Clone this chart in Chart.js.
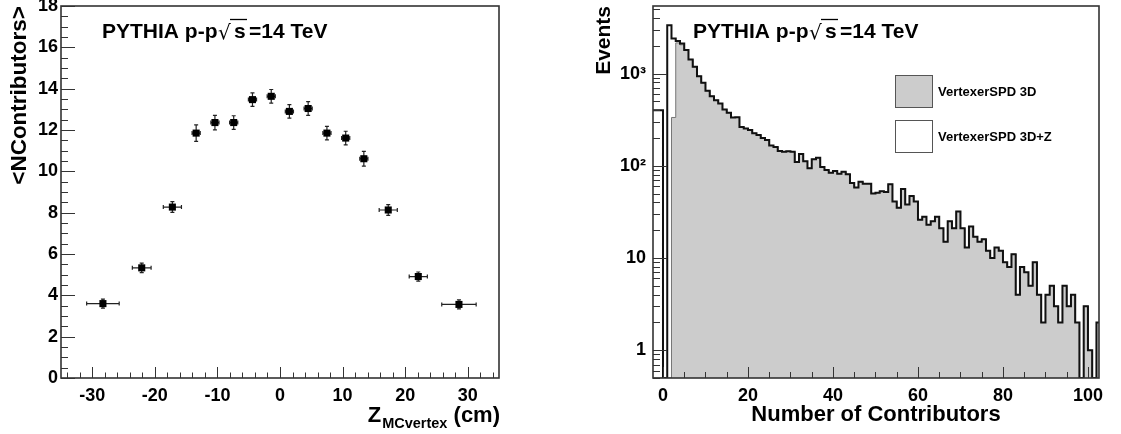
<!DOCTYPE html>
<html>
<head>
<meta charset="utf-8">
<script src="https://cdn.jsdelivr.net/npm/chart.js@4.4.1/dist/chart.umd.min.js"></script>
<style>
  body { margin: 0; background: #fff; width: 1121px; height: 434px; overflow: hidden; position: relative; }
  .pane { position: absolute; top: 0; height: 434px; }
  #paneL { left: 0; width: 560px; }
  #paneR { left: 560px; width: 561px; }
</style>
</head>
<body>
<div class="pane" id="paneL"><canvas id="left" width="560" height="434"></canvas></div>
<div class="pane" id="paneR"><canvas id="right" width="561" height="434"></canvas></div>
<script>
// left pad: <NContributors> vs Z of the MC vertex
var zPos        = [-28.3, -22.1, -17.2, -13.4, -10.4, -7.4, -4.4, -1.4, 1.5, 4.5, 7.5, 10.5, 13.4, 17.3, 22.1, 28.6];
var meanContrib = [3.60, 5.33, 8.27, 11.85, 12.36, 12.36, 13.47, 13.63, 12.90, 13.04, 11.85, 11.61, 10.61, 8.13, 4.91, 3.56];
var zErr        = [2.6, 1.5, 1.45, 0.65, 0.65, 0.65, 0.65, 0.65, 0.65, 0.65, 0.65, 0.65, 0.65, 1.45, 1.45, 2.75];
var contribErr  = [0.22, 0.23, 0.26, 0.4, 0.35, 0.33, 0.33, 0.33, 0.33, 0.33, 0.33, 0.33, 0.36, 0.26, 0.22, 0.22];

// right pad: number of contributors per event, bins [n, n+1)
var nContrib = [-3, -2, -1, 0, 1, 2, 3, 4, 5, 6,
  7, 8, 9, 10, 11, 12, 13, 14, 15, 16,
  17, 18, 19, 20, 21, 22, 23, 24, 25, 26,
  27, 28, 29, 30, 31, 32, 33, 34, 35, 36,
  37, 38, 39, 40, 41, 42, 43, 44, 45, 46,
  47, 48, 49, 50, 51, 52, 53, 54, 55, 56,
  57, 58, 59, 60, 61, 62, 63, 64, 65, 66,
  67, 68, 69, 70, 71, 72, 73, 74, 75, 76,
  77, 78, 79, 80, 81, 82, 83, 84, 85, 86,
  87, 88, 89, 90, 91, 92, 93, 94, 95, 96,
  97, 98, 99, 100, 101, 102];
var events3D = [0, 0, 0, 0, 0, 334, 2150, 2050, 1780, 1422,
  1183, 937, 793, 650, 569, 514, 473, 408, 375, 334,
  335, 264, 254, 245, 225, 215, 200, 190, 166, 160,
  145, 142, 144, 142, 110, 134, 112, 94, 118, 122,
  97, 90, 84, 88, 82, 86, 81, 65, 58, 67,
  64, 64, 50, 51, 53, 52, 63, 41, 35, 56,
  38, 47, 41, 26, 28, 23, 25, 28, 21, 15,
  25, 21, 32, 21, 13, 22, 17, 15, 16, 12,
  10, 13, 12, 9, 8, 11, 4, 8, 7, 5,
  9, 4, 2, 4, 5, 3, 2, 5, 3, 4,
  2, 0, 3, 1, 0, 2];
var events3DZ = [400, 400, 400, 0, 3330, 2400, 2250, 2120, 1795, 1422,
  1183, 937, 793, 650, 569, 514, 473, 408, 375, 334,
  335, 264, 254, 245, 225, 215, 200, 190, 166, 160,
  145, 142, 144, 142, 110, 134, 112, 94, 118, 122,
  97, 90, 84, 88, 82, 86, 81, 65, 58, 67,
  64, 64, 50, 51, 53, 52, 63, 41, 35, 56,
  38, 47, 41, 26, 28, 23, 25, 28, 21, 15,
  25, 21, 32, 21, 13, 22, 17, 15, 16, 12,
  10, 13, 12, 9, 8, 11, 4, 8, 7, 5,
  9, 4, 2, 4, 5, 3, 2, 5, 3, 4,
  2, 0, 3, 1, 0, 2];

var leftYTicks = [0, 2, 4, 6, 8, 10, 12, 14, 16, 18];
var leftXTicks = [-30, -20, -10, 0, 10, 20, 30];
var rightXTicks = [0, 20, 40, 60, 80, 100];
var rightYTicks = [1, 10, 100, 1000];
var rightYLabels = ['1', '10', '10\u00B2', '10\u00B3'];
var seriesNames = ['VertexerSPD 3D', 'VertexerSPD 3D+Z'];

var Y_MIN = 0.5, Y_MAX = 5400;

Chart.defaults.font.family = "'Liberation Sans', Arial, sans-serif";
Chart.defaults.font.weight = 'bold';
Chart.defaults.color = '#000';

var FRAME = '#333';
var FILL_GREY = 'rgb(204,204,204)';
var NO_GRID = { display: false, drawTicks: false };

function stepRange(a, b, s) {
  var out = [];
  for (var v = a; v <= b + 1e-9; v += s) out.push(Math.round(v * 100) / 100);
  return out;
}

// log minor ticks 2..9 in each decade
function logMinor(lo, hi) {
  var out = [];
  for (var d = 0.1; d <= 1000; d *= 10) {
    for (var k = 2; k <= 9; k++) {
      var v = +(k * d).toPrecision(3);
      if (v >= lo && v <= hi) out.push(v);
    }
  }
  return out;
}

// empty bins sit on the bottom of the log axis, like ROOT does
function histOutline(values) {
  var pts = [];
  for (var i = 0; i < nContrib.length; i++) {
    var v = values[i] > 0 ? values[i] : Y_MIN;
    pts.push({ x: nContrib[i], y: v });
    pts.push({ x: nContrib[i] + 1, y: v });
  }
  return pts;
}

function fixedTicks(values) {
  return function (scale) {
    scale.ticks = values.map(function (v) { return { value: v }; });
  };
}

// keep the frame where ROOT puts it, labels may overflow the margins
function fitY(w) {
  return function (s) { s.width = w; s.paddingTop = 0; s.paddingBottom = 0; };
}
function fitX(h) {
  return function (s) { s.height = h; s.paddingLeft = 0; s.paddingRight = 0; };
}

// ROOT style frame with inward ticks
var rootFrame = {
  id: 'rootFrame',
  afterDatasetsDraw: function (chart, args, o) {
    var ctx = chart.ctx, a = chart.chartArea;
    var xs = chart.scales.x, ys = chart.scales.y;
    ctx.save();
    ctx.strokeStyle = FRAME;
    ctx.lineWidth = 1;
    ctx.beginPath();
    function xt(list, len) {
      list.forEach(function (v) {
        var p = Math.round(xs.getPixelForValue(v)) + 0.5;
        ctx.moveTo(p, a.bottom); ctx.lineTo(p, a.bottom - len);
      });
    }
    function yt(list, len) {
      list.forEach(function (v) {
        var p = Math.round(ys.getPixelForValue(v)) + 0.5;
        ctx.moveTo(a.left, p); ctx.lineTo(a.left + len, p);
      });
    }
    xt(o.xMajor, o.xMajorLen); xt(o.xMinor, o.xMinorLen);
    yt(o.yMajor, o.yMajorLen); yt(o.yMinor, o.yMinorLen);
    ctx.stroke();
    ctx.lineWidth = 1.6;
    ctx.strokeRect(a.left, a.top, a.right - a.left, a.bottom - a.top);
    ctx.restore();
  }
};

// PYTHIA label with sqrt(s)
function drawPythia(ctx, x0, base) {
  ctx.save();
  ctx.fillStyle = '#000';
  ctx.textBaseline = 'alphabetic';
  ctx.font = "bold 21px 'Liberation Sans', Arial, sans-serif";
  ctx.fillText('PYTHIA p-p', x0, base);
  ctx.fillText('s', x0 + 132, base);
  ctx.fillText('=14 TeV', x0 + 147, base);
  ctx.font = "20px 'DejaVu Sans', sans-serif";
  ctx.fillText('\u221A', x0 + 116, base + 1);
  ctx.strokeStyle = '#000';
  ctx.lineWidth = 1.3;
  ctx.beginPath();
  ctx.moveTo(x0 + 128, base - 18.5);
  ctx.lineTo(x0 + 145, base - 18.5);
  ctx.stroke();
  ctx.restore();
}

var errorBars = {
  id: 'errorBars',
  beforeDatasetsDraw: function (chart) {
    var xs = chart.scales.x, ys = chart.scales.y, ctx = chart.ctx;
    ctx.save();
    ctx.strokeStyle = '#222';
    ctx.lineWidth = 1.2;
    ctx.beginPath();
    for (var i = 0; i < zPos.length; i++) {
      var px = xs.getPixelForValue(zPos[i]), py = ys.getPixelForValue(meanContrib[i]);
      var x0 = xs.getPixelForValue(zPos[i] - zErr[i]), x1 = xs.getPixelForValue(zPos[i] + zErr[i]);
      var y0 = ys.getPixelForValue(meanContrib[i] - contribErr[i]), y1 = ys.getPixelForValue(meanContrib[i] + contribErr[i]);
      ctx.moveTo(x0, py); ctx.lineTo(x1, py);
      ctx.moveTo(x0, py - 2); ctx.lineTo(x0, py + 2);
      ctx.moveTo(x1, py - 2); ctx.lineTo(x1, py + 2);
      ctx.moveTo(px, y0); ctx.lineTo(px, y1);
      ctx.moveTo(px - 2, y0); ctx.lineTo(px + 2, y0);
      ctx.moveTo(px - 2, y1); ctx.lineTo(px + 2, y1);
    }
    ctx.stroke();
    ctx.restore();
  }
};

var leftText = {
  id: 'leftText',
  afterDraw: function (chart) {
    var ctx = chart.ctx, a = chart.chartArea;
    drawPythia(ctx, 102, 38);
    // x axis title Z_{MCvertex} (cm), right aligned on the frame
    ctx.save();
    ctx.fillStyle = '#000';
    ctx.textBaseline = 'alphabetic';
    var big = "bold 22px 'Liberation Sans', Arial, sans-serif";
    var small = "bold 14.5px 'Liberation Sans', Arial, sans-serif";
    ctx.font = big;
    var wZ = ctx.measureText('Z').width, wCm = ctx.measureText(' (cm)').width;
    ctx.font = small;
    var wSub = ctx.measureText('MCvertex').width;
    var x = a.right - (wZ + wSub + wCm);
    ctx.font = big; ctx.fillText('Z', x, 422);
    ctx.font = small; ctx.fillText('MCvertex', x + wZ + 1, 428);
    ctx.font = big; ctx.fillText(' (cm)', x + wZ + wSub + 1, 422);
    ctx.restore();
  }
};

var rightText = {
  id: 'rightText',
  afterDraw: function (chart) {
    var ctx = chart.ctx;
    drawPythia(ctx, 133, 38);
    var ds = chart.data.datasets;
    // legend: grey 3D first, then 3D+Z
    var rows = [{ d: ds[1], y: 75 }, { d: ds[0], y: 120 }];
    ctx.save();
    rows.forEach(function (r) {
      ctx.fillStyle = r.d.legendFill;
      ctx.fillRect(335.5, r.y + 0.5, 37, 32);
      ctx.strokeStyle = '#555';
      ctx.lineWidth = 1;
      ctx.strokeRect(335.5, r.y + 0.5, 37, 32);
      ctx.fillStyle = '#000';
      ctx.font = "bold 13px 'Liberation Sans', Arial, sans-serif";
      ctx.textBaseline = 'middle';
      ctx.fillText(r.d.label, 378, r.y + 17);
    });
    ctx.restore();
  }
};

new Chart(document.getElementById('left'), {
  type: 'scatter',
  data: {
    datasets: [{
      label: '<NContributors>',
      data: zPos.map(function (z, i) { return { x: z, y: meanContrib[i] }; }),
      pointStyle: 'rect',
      pointRadius: 5,
      backgroundColor: '#000',
      borderColor: '#000',
      borderWidth: 0
    }]
  },
  options: {
    responsive: false,
    animation: false,
    layout: { padding: { top: 6, right: 61, left: 0, bottom: 0 } },
    plugins: {
      legend: { display: false },
      tooltip: { enabled: false },
      rootFrame: {
        xMajor: leftXTicks, xMajorLen: 11, xMinor: stepRange(-34, 34, 2), xMinorLen: 5.5,
        yMajor: leftYTicks, yMajorLen: 14, yMinor: stepRange(0, 18, 0.5), yMinorLen: 7
      }
    },
    scales: {
      x: {
        type: 'linear', min: -35, max: 35,
        afterFit: fitX(56),
        afterBuildTicks: fixedTicks(leftXTicks),
        grid: NO_GRID, border: { display: false },
        ticks: { padding: 7, autoSkip: false, maxRotation: 0, font: { size: 18 },
          callback: function (v) { return String(v); } }
      },
      y: {
        min: 0, max: 18,
        afterFit: fitY(61),
        afterBuildTicks: fixedTicks(leftYTicks),
        grid: NO_GRID, border: { display: false },
        ticks: { padding: 3, autoSkip: false, font: { size: 18 },
          callback: function (v) { return String(v); } },
        title: { display: true, text: '<NContributors>', align: 'end',
          font: { size: 22.5 }, padding: { top: 6.5 } }
      }
    }
  },
  plugins: [errorBars, rootFrame, leftText]
});

new Chart(document.getElementById('right'), {
  type: 'line',
  data: {
    datasets: [{
      label: seriesNames[1],
      data: histOutline(events3DZ),
      borderColor: '#111',
      borderWidth: 2,
      fill: false,
      legendFill: '#fff',
      pointRadius: 0, tension: 0
    }, {
      label: seriesNames[0],
      data: histOutline(events3D),
      borderColor: '#777',
      borderWidth: 1,
      backgroundColor: FILL_GREY,
      fill: 'start',
      legendFill: FILL_GREY,
      pointRadius: 0, tension: 0
    }]
  },
  options: {
    responsive: false,
    animation: false,
    layout: { padding: { top: 6, right: 22, left: 0, bottom: 0 } },
    plugins: {
      legend: { display: false },
      tooltip: { enabled: false },
      rootFrame: {
        xMajor: rightXTicks, xMajorLen: 11, xMinor: stepRange(0, 100, 5), xMinorLen: 6,
        yMajor: rightYTicks, yMajorLen: 14, yMinor: logMinor(Y_MIN, Y_MAX), yMinorLen: 7
      }
    },
    scales: {
      x: {
        type: 'linear', min: -2.35, max: 102.6,
        afterFit: fitX(56),
        afterBuildTicks: fixedTicks(rightXTicks),
        grid: NO_GRID, border: { display: false },
        ticks: { padding: 7, autoSkip: false, maxRotation: 0, font: { size: 18 },
          callback: function (v) { return String(v); } },
        title: { display: true, text: 'Number of Contributors', align: 'center',
          font: { size: 22 }, padding: { bottom: 6 } }
      },
      y: {
        type: 'logarithmic', min: Y_MIN, max: Y_MAX,
        afterFit: fitY(93),
        afterBuildTicks: fixedTicks(rightYTicks),
        grid: NO_GRID, border: { display: false },
        ticks: { padding: 7, autoSkip: false, font: { size: 18 },
          callback: function (v) {
            var i = rightYTicks.indexOf(v);
            return i >= 0 ? rightYLabels[i] : '';
          } },
        title: { display: true, text: 'Events', align: 'end',
          font: { size: 21 }, padding: { top: 32 } }
      }
    }
  },
  plugins: [rootFrame, rightText]
});
</script>
</body>
</html>
